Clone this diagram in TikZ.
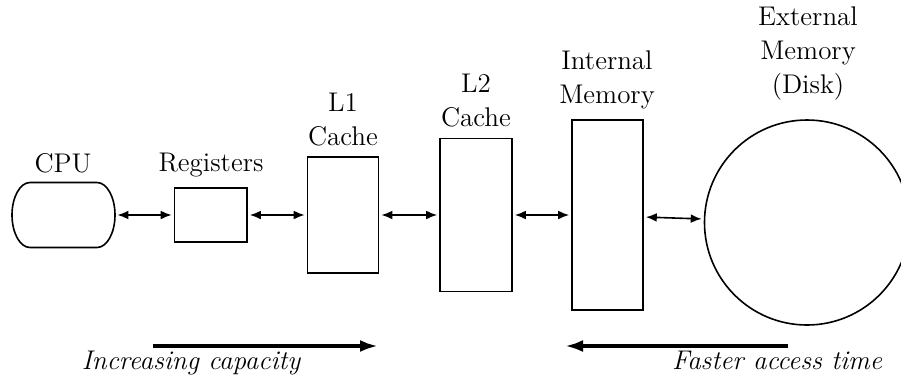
\documentclass[tikz,border=0pt]{standalone}
\usetikzlibrary{arrows.meta}
\begin{document}
\begin{tikzpicture}[x=0.5pt,y=-0.5pt,
  box/.style={draw, line width=0.8pt, rectangle, inner sep=0pt},
  lbl/.style={font=\fontsize{13.5}{17}\selectfont, align=center, inner sep=0pt, anchor=south},
  note/.style={font=\fontsize{13.5}{17}\selectfont\itshape, inner sep=0pt, anchor=base},
  link/.style={line width=0.8pt, {Latex[length=5.5pt,width=4.4pt]}-{Latex[length=5.5pt,width=4.4pt]},
               shorten <=1pt, shorten >=1pt},
  trend/.style={line width=2pt, -{Latex[length=9pt,width=6pt]}}]
  \useasboundingbox (0,0) rectangle (901,377);
  \clip (0,0) rectangle (901,377);

  % processor: flat top and bottom, elliptic sides
  \node[inner sep=0pt, minimum width=51.5pt, minimum height=32.5pt] (cpu) at (63.5,215) {};
  \draw[line width=0.8pt] (30,182.5) -- (97,182.5)
    arc[start angle=90, end angle=-90, x radius=9pt, y radius=16.25pt]
    -- (30,247.5)
    arc[start angle=270, end angle=90, x radius=9pt, y radius=16.25pt] -- cycle;

  % memory levels
  \node[box, minimum width=36.25pt, minimum height=27pt] (reg) at (210.75,215) {};
  \node[box, minimum width=35.5pt, minimum height=58pt] (l1) at (343,215) {};
  \node[box, minimum width=36pt, minimum height=76.5pt] (l2) at (476,215) {};
  \node[box, minimum width=35.5pt, minimum height=95pt] (mem) at (607.5,215) {};
  \node[draw, circle, line width=0.8pt, inner sep=0pt, minimum size=102.5pt] (disk) at (807,222.5) {};

  % labels
  \node[lbl] (cpu-lbl) at (63,173) {CPU};
  \node[lbl] (reg-lbl) at (211,177) {Registers};
  \node[lbl] (l1-lbl) at (343,146) {L1\\Cache};
  \node[lbl] (l2-lbl) at (476,127) {L2\\Cache};
  \node[lbl] (mem-lbl) at (607,109) {Internal\\Memory};
  \node[lbl] (disk-lbl) at (808,101) {External\\Memory\\(Disk)};

  % data paths between levels
  \draw[link] (cpu.east) -- (reg.west);
  \draw[link] (reg.east) -- (l1.west);
  \draw[link] (l1.east) -- (l2.west);
  \draw[link] (l2.east) -- (mem.west);
  \draw[link] ([yshift=-1pt]mem.east) -- ([yshift=1.75pt]disk.west);

  % trends
  \coordinate (cap-start) at (153,346);
  \coordinate (cap-end) at (378,346);
  \coordinate (time-start) at (788,346);
  \coordinate (time-end) at (565,346);
  \draw[trend] (cap-start) -- (cap-end);
  \draw[trend] (time-start) -- (time-end);
  \node[note] (cap-lbl) at (191,369) {Increasing capacity};
  \node[note] (time-lbl) at (777,369) {Faster access time};
\end{tikzpicture}
\end{document}
